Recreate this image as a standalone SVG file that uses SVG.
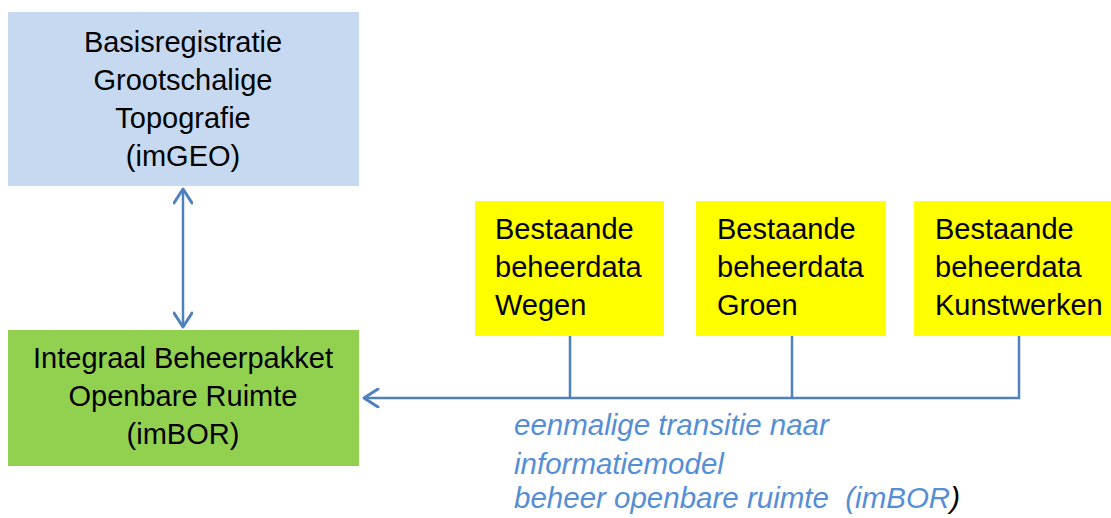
<svg xmlns="http://www.w3.org/2000/svg" width="1111" height="518" viewBox="0 0 1111 518">
<style>
.t{font-family:"Liberation Sans",Arial,sans-serif;font-size:29px;fill:#000}
.c{text-anchor:middle}
.i{font-family:"Liberation Sans",Arial,sans-serif;font-size:29.5px;font-style:italic;fill:#558ed5}
.ln{stroke:#4f81bd;stroke-width:2.5;fill:none}
</style>
<defs>
<marker id="ah" viewBox="0 0 20 20" refX="18" refY="10" markerWidth="20" markerHeight="20" markerUnits="userSpaceOnUse" orient="auto-start-reverse">
<path d="M4 1 L18 10 L4 19" fill="none" stroke="#4f81bd" stroke-width="3" stroke-linecap="round" stroke-linejoin="round"/>
</marker>
</defs>
<rect width="1111" height="518" fill="#fff"/>
<g id="imgeo">
<rect x="8" y="12" width="351" height="174" fill="#c6d9f1"/>
<text class="t c" x="183" y="52">Basisregistratie</text>
<text class="t c" x="183" y="90">Grootschalige</text>
<text class="t c" x="183" y="128">Topografie</text>
<text class="t c" x="183" y="166">(imGEO)</text>
</g>
<g id="imbor">
<rect x="8" y="330" width="351" height="136" fill="#92d050"/>
<text class="t c" x="183" y="368">Integraal Beheerpakket</text>
<text class="t c" x="183" y="406">Openbare Ruimte</text>
<text class="t c" x="183" y="444">(imBOR)</text>
</g>
<g id="wegen">
<rect x="475" y="201" width="189" height="135" fill="#ffff00"/>
<text class="t" x="495" y="239">Bestaande</text>
<text class="t" x="495" y="277">beheerdata</text>
<text class="t" x="495" y="315">Wegen</text>
</g>
<g id="groen">
<rect x="696" y="201" width="190" height="135" fill="#ffff00"/>
<text class="t" x="717" y="239">Bestaande</text>
<text class="t" x="717" y="277">beheerdata</text>
<text class="t" x="717" y="315">Groen</text>
</g>
<g id="kunstwerken">
<rect x="914" y="201" width="197" height="135" fill="#ffff00"/>
<text class="t" x="935" y="239">Bestaande</text>
<text class="t" x="935" y="277">beheerdata</text>
<text class="t" x="935" y="315">Kunstwerken</text>
</g>
<g id="connectors">
<line class="ln" x1="183" y1="189" x2="183" y2="327" marker-start="url(#ah)" marker-end="url(#ah)"/>
<polyline class="ln" points="1019,336 1019,398 364,398" marker-end="url(#ah)"/>
<line class="ln" x1="570" y1="336" x2="570" y2="398"/>
<line class="ln" x1="792" y1="336" x2="792" y2="398"/>
</g>
<g id="label">
<text class="i" x="514" y="435">eenmalige transitie naar</text>
<text class="i" x="514" y="474">informatiemodel</text>
<text class="i" x="514" y="508" xml:space="preserve">beheer openbare ruimte  (imBOR<tspan fill="#000">)</tspan></text>
</g>
</svg>
